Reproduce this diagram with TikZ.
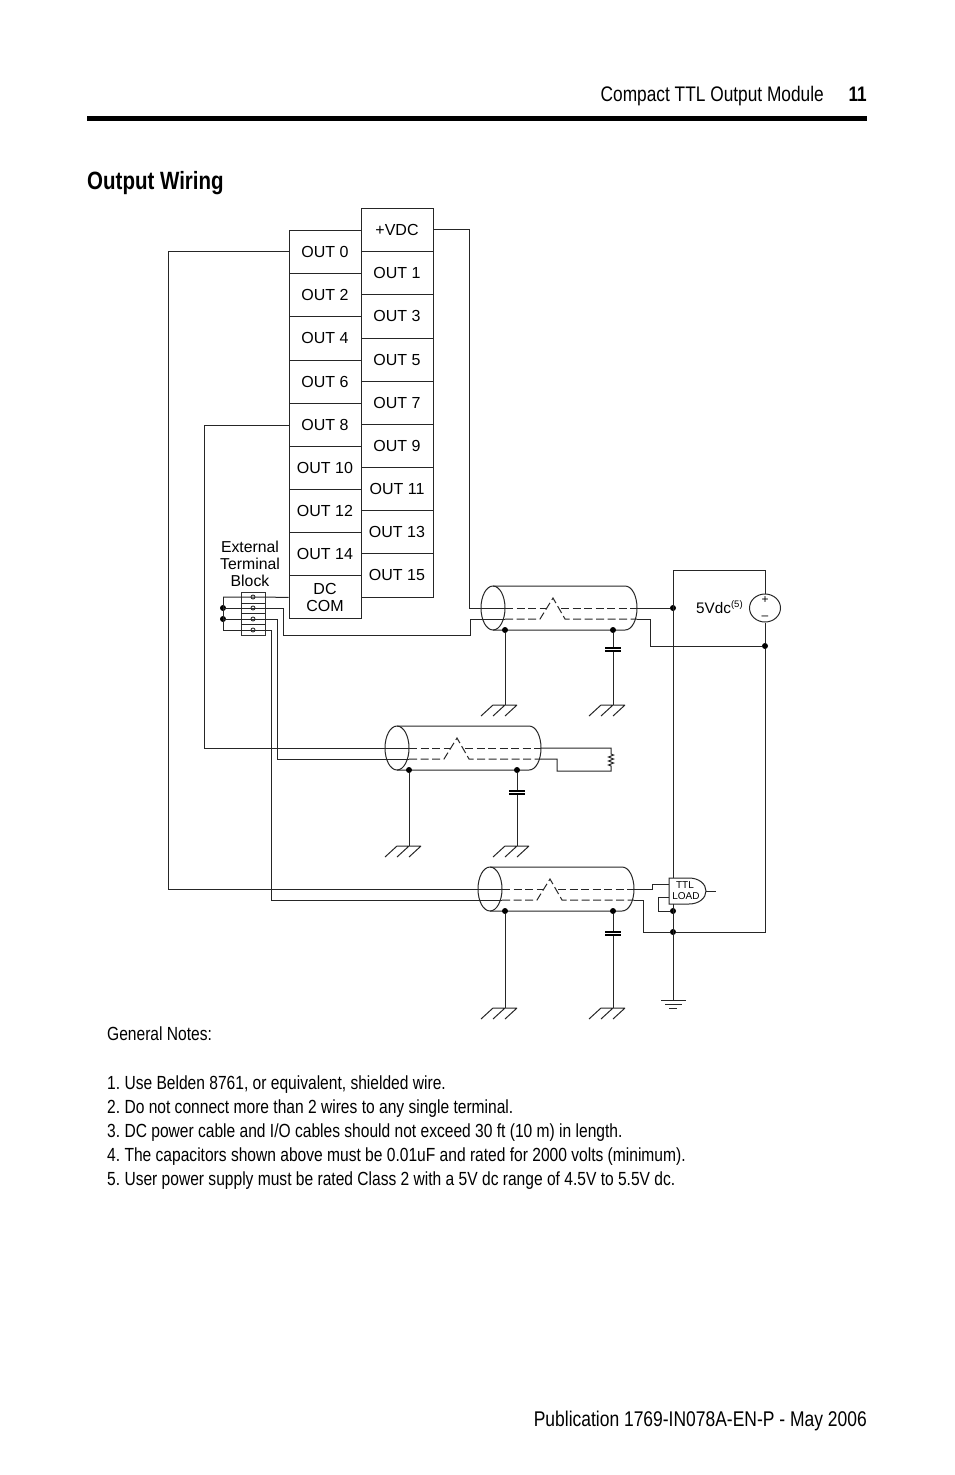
\documentclass[tikz,border=0pt]{standalone}
\usepackage{fontspec}
\setmainfont{Liberation Sans}
\newfontfamily\narrowfont[FakeStretch=0.82]{Liberation Sans}
\usepackage{tikz}
\usetikzlibrary{shapes.geometric}

\tikzset{
  wire/.style={draw=black!85,line width=1pt},
  shield/.style={wire,dash pattern=on 8pt off 3.5pt},
  outbox/.style={draw=black!85,line width=1pt,minimum width=72pt,minimum height=43.2pt,inner sep=0pt,
    font=\fontsize{16}{17}\selectfont,align=center},
  dot/.style={circle,fill=black,inner sep=0pt,minimum size=6pt},
  lug/.style={circle,draw=black!80,line width=.9pt,inner sep=0pt,minimum size=4pt},
  para/.style={anchor=base west,inner sep=0pt,font=\narrowfont\frenchspacing\fontsize{19}{20}\selectfont},
  chassis/.pic={\draw[wire] (-12,0) -- (12,0) (-12,0) -- (-24,11) (0,0) -- (-12,11) (12,0) -- (0,11);},
  condenser/.pic={\draw[line width=1.2pt] (-8,0) -- (8,0) (-8,3) -- (8,3);}
}

\begin{document}
\begin{tikzpicture}
  [x=1pt,y=-1pt]
  \useasboundingbox (0,0) rectangle (954,1475);

  % page furniture
  \node[para,anchor=base east,font=\narrowfont\frenchspacing\fontsize{21.1}{22}\selectfont] (hdr) at (824,101) {Compact TTL Output Module};
  \node[para,anchor=base east,font=\narrowfont\bfseries\fontsize{21}{22}\selectfont] (pg) at (867,101) {11};
  \fill (87,115.5) rectangle (867,120.5);
  \node[para,font=\narrowfont\bfseries\fontsize{25}{26}\selectfont] (ttl) at (87,189) {Output Wiring};

  % terminals
  \foreach \name/\txt/\y in
  {out0/OUT 0/251.6, out2/OUT 2/295, out4/OUT 4/338.4, out6/OUT 6/381.8, out8/OUT 8/425,
   out10/OUT 10/468, out12/OUT 12/511, out14/OUT 14/554, dccom/DC\\COM/597.3}
    \node[outbox] (\name) at (325,\y) {\txt};
  \foreach \name/\txt/\y in
  {vdc/+VDC/229.6, out1/OUT 1/273, out3/OUT 3/316.4, out5/OUT 5/359.6, out7/OUT 7/402.6,
   out9/OUT 9/445.8, out11/OUT 11/489, out13/OUT 13/532.2, out15/OUT 15/575.4}
    \node[outbox] (\name) at (397,\y) {\txt};

  % external block
  \node[inner sep=0pt,align=center,font=\fontsize{15.8}{17}\selectfont] (extblk) at (250,564) {External\\Terminal\\Block};
  \node[draw=black!80,line width=1pt,minimum width=24pt,minimum height=43pt,inner sep=0pt] (blk) at (253,613.5) {};
  \draw[wire] (241,603) -- (265,603) (241,613.5) -- (265,613.5) (241,624) -- (265,624);
  \foreach \n/\y in {1/597, 2/608, 3/619, 4/630} {
    \coordinate (bus\n) at (223,\y);
    \node[lug] (lug\n) at (253,\y) {};
  }
  \node[dot] (busdot2) at (bus2) {};
  \node[dot] (busdot3) at (bus3) {};
  \draw[wire] (bus1) -- (bus4);

  % cables
  \foreach \n/\x/\y/\dx/\cy/\gy in {a/493/608/12/648/705, b/397/748/12/791/846, c/490/889/15/932/1008} {
    \coordinate (\n w1) at (\x+12,\y);
    \coordinate (\n w2) at (\x+12,\y+11);
    \coordinate (\n e1) at (\x+144,\y);
    \coordinate (\n e2) at (\x+144,\y+11);
    \draw[wire] (\x,\y) ellipse (12 and 22);
    \draw[wire] (\x,\y-22) -- (\x+132,\y-22)
      .. controls (\x+139,\y-22) and (\x+144,\y-12) .. (\x+144,\y)
      .. controls (\x+144,\y+12) and (\x+139,\y+22) .. (\x+132,\y+22) -- (\x,\y+22);
    \draw[shield] (\n w1) -- (\x+53,\y);
    \draw[shield] (\n w2) -- (\x+47,\y+11) -- (\x+60,\y-10) -- (\x+72,\y+11) -- (\n e2);
    \draw[shield] (\x+68,\y) -- (\n e1);
    \node[dot] (\n g1) at (\x+\dx,\y+22) {};
    \node[dot] (\n g2) at (\x+\dx+108,\y+22) {};
    \coordinate (\n h1) at (\x+\dx,\gy);
    \coordinate (\n h2) at (\x+\dx+108,\gy);
    \draw[wire] (\n g1) -- (\n h1);
    \draw[wire] (\n g2) -- (\n h2);
    \pic at (\n h1) {chassis};
    \pic at (\n h2) {chassis};
    \fill[white] (\x+\dx+107,\cy+.7) rectangle (\x+\dx+109,\cy+2.3);
    \path (\x+\dx+108,\cy) pic {condenser};
  }

  % field wiring
  \draw[wire] (vdc.east) -- ++(36,0) |- (aw1);
  \draw[wire] (out0.west) -- ++(-120,0) |- (cw1);
  \draw[wire] (out8.west) -- ++(-84,0) |- (bw1);
  \draw[wire] (bus1) -- (dccom.west);
  \draw[wire] (bus2) -- (283,608) -- (283,635) -- (470,635) -- (470,619) -- (aw2);
  \draw[wire] (bus3) -- (277,619) |- (bw2);
  \draw[wire] (bus4) -- (271,630) |- (cw2);

  % supply
  \node[dot] (vpos) at (673,608) {};
  \node[dot] (vneg) at (765,646) {};
  \node[draw=black!85,line width=1pt,ellipse,minimum width=31pt,minimum height=28pt,inner sep=0pt] (vsrc) at (765,608) {};
  \node[inner sep=0pt,font=\fontsize{12}{12}\selectfont] (vplus) at (765,600) {+};
  \node[inner sep=0pt,font=\fontsize{12}{12}\selectfont] (vminus) at (765,618) {--};
  \node[anchor=base west,inner sep=0pt,font=\fontsize{15.3}{17}\selectfont] (vlbl) at (696,613)
    {5Vdc\raisebox{6pt}{\fontsize{9.5}{10}\selectfont(5)}};
  \draw[wire] (ae1) -- (vpos);
  \draw[wire] (ae2) -- (650,619) |- (vneg);
  \draw[wire] (be1) -- (611,748) -- (611,754) -- (613.5,755) -- (608.5,757) -- (613.5,759) -- (608.5,761)
    -- (613.5,763) -- (608.5,765) -- (611,766) -- (611,771) -- (557,771) -- (557,759) -- (be2);

  % load
  \node[dot] (gfb) at (673,911) {};
  \node[dot] (gcom) at (673,932) {};
  \coordinate (gtop) at (673,878);
  \coordinate (gbot) at (673,904);
  \coordinate (gnd) at (673,1000);
  \draw[wire,fill=white] (669,878) -- (689,878) .. controls (699,878) and (706,884) .. (706,891)
    .. controls (706,898) and (699,904) .. (689,904) -- (669,904) -- cycle;
  \node[inner sep=0pt,font=\fontsize{10}{10}\selectfont] (glbl1) at (685,885) {TTL};
  \node[inner sep=0pt,font=\fontsize{10}{10}\selectfont] (glbl2) at (686,896.5) {LOAD};
  \draw[wire] (vsrc.north) -- (765,570) -- (673,570) -- (gtop);
  \draw[wire] (vsrc.south) -- (vneg) -- (765,932) -- (gcom);
  \draw[wire] (gbot) -- (gnd);
  \draw[wire] (ce1) -- (652,889) -- (652,884) -- (669,884);
  \draw[wire] (ce2) -- (643,900) -- (643,932) -- (gcom);
  \draw[wire] (669,897) -- (658,897) -- (658,911) -- (gfb);
  \draw[wire] (706,891) -- (716,891);
  \draw[wire] (661,1000) -- (686,1000) (665,1004) -- (682,1004) (669,1008) -- (677,1008);

  % notes
  \foreach \name/\y/\txt in
  {nt0/1040/General Notes:,
   nt1/1089/1. Use Belden 8761{,} or equivalent{,} shielded wire.,
   nt2/1113/2. Do not connect more than 2 wires to any single terminal.,
   nt3/1137/{3. DC power cable and I/O cables should not exceed 30 ft (10 m) in length.},
   nt4/1161/4. The capacitors shown above must be 0.01uF and rated for 2000 volts (minimum).,
   nt5/1185/5. User power supply must be rated Class 2 with a 5V dc range of 4.5V to 5.5V dc.}
    \node[para] (\name) at (107,\y) {\txt};
  \node[para,anchor=base east,font=\narrowfont\frenchspacing\fontsize{21.3}{22}\selectfont] (pub) at (867,1426) {Publication 1769-IN078A-EN-P - May 2006};
\end{tikzpicture}
\end{document}
